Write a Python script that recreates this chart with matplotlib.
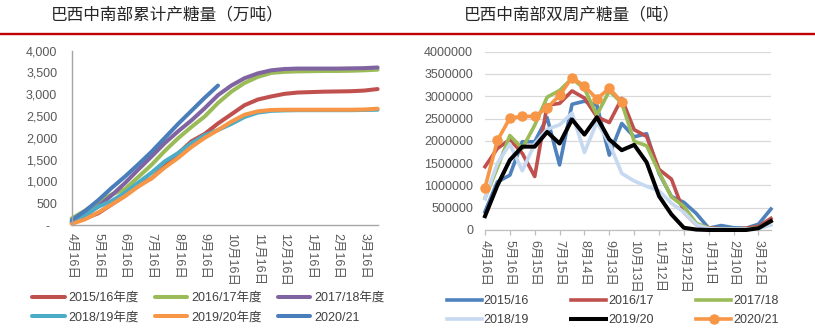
import matplotlib
matplotlib.use('Agg')
import matplotlib.pyplot as plt
from matplotlib.lines import Line2D
from matplotlib.ticker import FuncFormatter

plt.rcParams['font.family'] = ['Liberation Sans', 'Noto Sans CJK SC']

# ---- left chart: cumulative sugar output (万吨), half-monthly points from 4/16
left_ticks = ['4月16日', '5月16日', '6月16日', '7月16日', '8月16日', '9月16日',
              '10月16日', '11月16日', '12月16日', '1月16日', '2月16日', '3月16日']
left_seasons = ['2015/16年度', '2016/17年度', '2017/18年度', '2018/19年度', '2019/20年度', '2020/21']
cum_1516 = [40, 150, 270, 470, 670, 920, 1070, 1350, 1640, 1920, 2090, 2330,
            2540, 2750, 2880, 2950, 3010, 3040, 3050, 3060, 3065, 3070, 3085, 3120]
cum_1617 = [150, 330, 530, 700, 820, 1100, 1380, 1700, 1990, 2250, 2490, 2800,
            3060, 3260, 3400, 3490, 3515, 3525, 3530, 3535, 3535, 3540, 3550, 3565]
cum_1718 = [70, 220, 430, 680, 960, 1270, 1570, 1880, 2150, 2400, 2680, 2980,
            3200, 3370, 3480, 3550, 3580, 3590, 3590, 3590, 3590, 3595, 3600, 3615]
cum_1819 = [70, 220, 420, 550, 740, 970, 1200, 1460, 1650, 1880, 2060, 2180,
            2320, 2480, 2580, 2620, 2630, 2635, 2635, 2635, 2635, 2635, 2640, 2645]
cum_1920 = [25, 130, 290, 470, 660, 880, 1070, 1320, 1540, 1790, 2000, 2180,
            2370, 2530, 2610, 2640, 2645, 2645, 2645, 2645, 2645, 2645, 2650, 2670]
cum_2021 = [110, 320, 570, 850, 1110, 1390, 1680, 2000, 2320, 2620, 2920, 3200]
left_colors = ['#C0504D', '#9BBB59', '#8064A2', '#4BACC6', '#F79646', '#4A7EBB']

# ---- right chart: biweekly sugar output (吨)
right_ticks = ['4月16日', '5月16日', '6月15日', '7月15日', '8月14日', '9月13日',
               '10月13日', '11月12日', '12月12日', '1月11日', '2月10日', '3月12日']
right_seasons = ['2015/16', '2016/17', '2017/18', '2018/19', '2019/20', '2020/21']
bw_1516 = [410000, 1080000, 1230000, 1980000, 1980000, 2520000, 1460000, 2820000,
           2890000, 2800000, 1680000, 2390000, 2090000, 2160000, 1270000, 750000,
           620000, 370000, 40000, 100000, 50000, 40000, 130000, 470000]
bw_1617 = [1420000, 1830000, 2030000, 1720000, 1200000, 2800000, 2840000, 3120000,
           2960000, 2540000, 2410000, 2950000, 2250000, 2100000, 1360000, 1140000,
           400000, 120000, 50000, 30000, 20000, 40000, 80000, 260000]
bw_1718 = [710000, 1400000, 2120000, 1830000, 2350000, 2980000, 3130000, 3400000,
           3170000, 2580000, 3120000, 2850000, 1990000, 1890000, 1300000, 740000,
           530000, 150000, 40000, 20000, 20000, 20000, 50000, 190000]
bw_1819 = [710000, 1500000, 1930000, 1330000, 1930000, 2260000, 2360000, 2620000,
           1740000, 2420000, 1950000, 1270000, 1100000, 980000, 880000, 600000,
           400000, 120000, 30000, 20000, 20000, 20000, 30000, 110000]
bw_1920 = [310000, 1000000, 1570000, 1870000, 1870000, 2200000, 1940000, 2480000,
           2140000, 2530000, 2030000, 1790000, 1910000, 1520000, 760000, 350000,
           50000, 10000, 0, 0, 0, 0, 40000, 200000]
bw_2021 = [950000, 2010000, 2510000, 2550000, 2550000, 2740000, 3020000, 3420000,
           3230000, 2940000, 3180000, 2870000]
right_colors = ['#4F81BD', '#C0504D', '#9BBB59', '#C6D9F1', '#000000', '#F79646']

TICK_COLOR = '#595959'

fig = plt.figure(figsize=(8.15, 3.32), dpi=100)
W, H = 815.0, 332.0

# titles and the red rule under them
fig.text(167 / W, 1 - 15 / H, '巴西中南部累计产糖量（万吨）', ha='center', va='center',
         fontsize=12, family='Noto Sans CJK SC', color='#262626')
fig.text(572 / W, 1 - 15 / H, '巴西中南部双周产糖量（吨）', ha='center', va='center',
         fontsize=12, family='Noto Sans CJK SC', color='#262626')
fig.add_artist(Line2D([0, 1], [1 - 33.5 / H] * 2, color='#C00000', lw=1.7,
                      transform=fig.transFigure))

# ---------------- left axes
ax_l = fig.add_axes([71.7 / W, 1 - 225 / H, (377.6 - 71.7) / W, (225 - 50.7) / H])
left_series = [cum_1516, cum_1617, cum_1718, cum_1819, cum_1920, cum_2021]
left_lines = []
for vals, c in zip(left_series, left_colors):
    ln, = ax_l.plot(range(len(vals)), vals, color=c, lw=2.9, solid_capstyle='round',
                    solid_joinstyle='round', clip_on=False)
    left_lines.append(ln)
ax_l.set_xlim(0, 23)
ax_l.set_ylim(0, 4000)
ax_l.set_yticks(range(0, 4001, 500))
ax_l.yaxis.set_major_formatter(FuncFormatter(lambda v, p: '-  ' if v == 0 else f'{v:,.0f}'))
ax_l.set_xticks(range(0, 24, 2))
ax_l.set_xticklabels(left_ticks, rotation=270, ha='center', va='top')
ax_l.tick_params(axis='y', length=0, pad=10.4, labelsize=9, labelcolor=TICK_COLOR)
ax_l.tick_params(axis='x', length=0, pad=5.8, labelsize=9, labelcolor=TICK_COLOR)
for s in ['top', 'right']:
    ax_l.spines[s].set_visible(False)
for s in ['left', 'bottom']:
    ax_l.spines[s].set_color('#A6A6A6')
    ax_l.spines[s].set_linewidth(1.0)

order = [0, 3, 1, 4, 2, 5]
fig.legend([left_lines[i] for i in order], [left_seasons[i] for i in order],
           ncol=3, loc='upper left', bbox_to_anchor=(32 / W, 1 - 292 / H),
           frameon=False, fontsize=9, handlelength=2.6, handletextpad=0.3,
           columnspacing=1.3, borderpad=0, borderaxespad=0, labelspacing=0.62,
           labelcolor='#404040')

# ---------------- right axes
ax_r = fig.add_axes([485 / W, 1 - 230 / H, (770.9 - 485) / W, (230 - 51.7) / H])
right_series = [bw_1516, bw_1617, bw_1718, bw_1819, bw_1920, bw_2021]
right_lines = []
for k, (vals, c) in enumerate(zip(right_series, right_colors)):
    if k == 5:
        ln, = ax_r.plot(range(len(vals)), vals, color=c, lw=2.6, marker='o', ms=6.5,
                        solid_joinstyle='round', clip_on=False, zorder=5)
    else:
        ln, = ax_r.plot(range(len(vals)), vals, color=c, lw=2.6 if k != 4 else 2.9,
                        solid_joinstyle='round', clip_on=False, zorder=3 + k * 0.1)
    right_lines.append(ln)
ax_r.set_xlim(0, 23)
ax_r.set_ylim(0, 4000000)
ax_r.set_yticks(range(0, 4000001, 500000))
ax_r.yaxis.set_major_formatter(FuncFormatter(lambda v, p: f'{v:.0f}'))
ax_r.set_xticks(range(0, 24, 2))
ax_r.set_xticklabels(right_ticks, rotation=270, ha='center', va='top')
ax_r.yaxis.grid(True, color='#D9D9D9', lw=0.9)
ax_r.set_axisbelow(True)
ax_r.tick_params(axis='y', length=0, pad=8.6, labelsize=9, labelcolor=TICK_COLOR)
ax_r.tick_params(axis='x', length=3.6, width=0.9, color='#BFBFBF', pad=3.6,
                 labelsize=9, labelcolor=TICK_COLOR)
for s in ['top', 'right', 'left']:
    ax_r.spines[s].set_visible(False)
ax_r.spines['bottom'].set_color('#BFBFBF')
ax_r.spines['bottom'].set_linewidth(0.9)

fig.legend([right_lines[i] for i in order], [right_seasons[i] for i in order],
           ncol=3, loc='upper left', bbox_to_anchor=(446.7 / W, 1 - 295 / H),
           frameon=False, fontsize=9, handlelength=2.8, handletextpad=0.15,
           columnspacing=3.4, borderpad=0, borderaxespad=0, labelspacing=0.55,
           labelcolor='#404040')

fig.savefig('out.png', dpi=100)
